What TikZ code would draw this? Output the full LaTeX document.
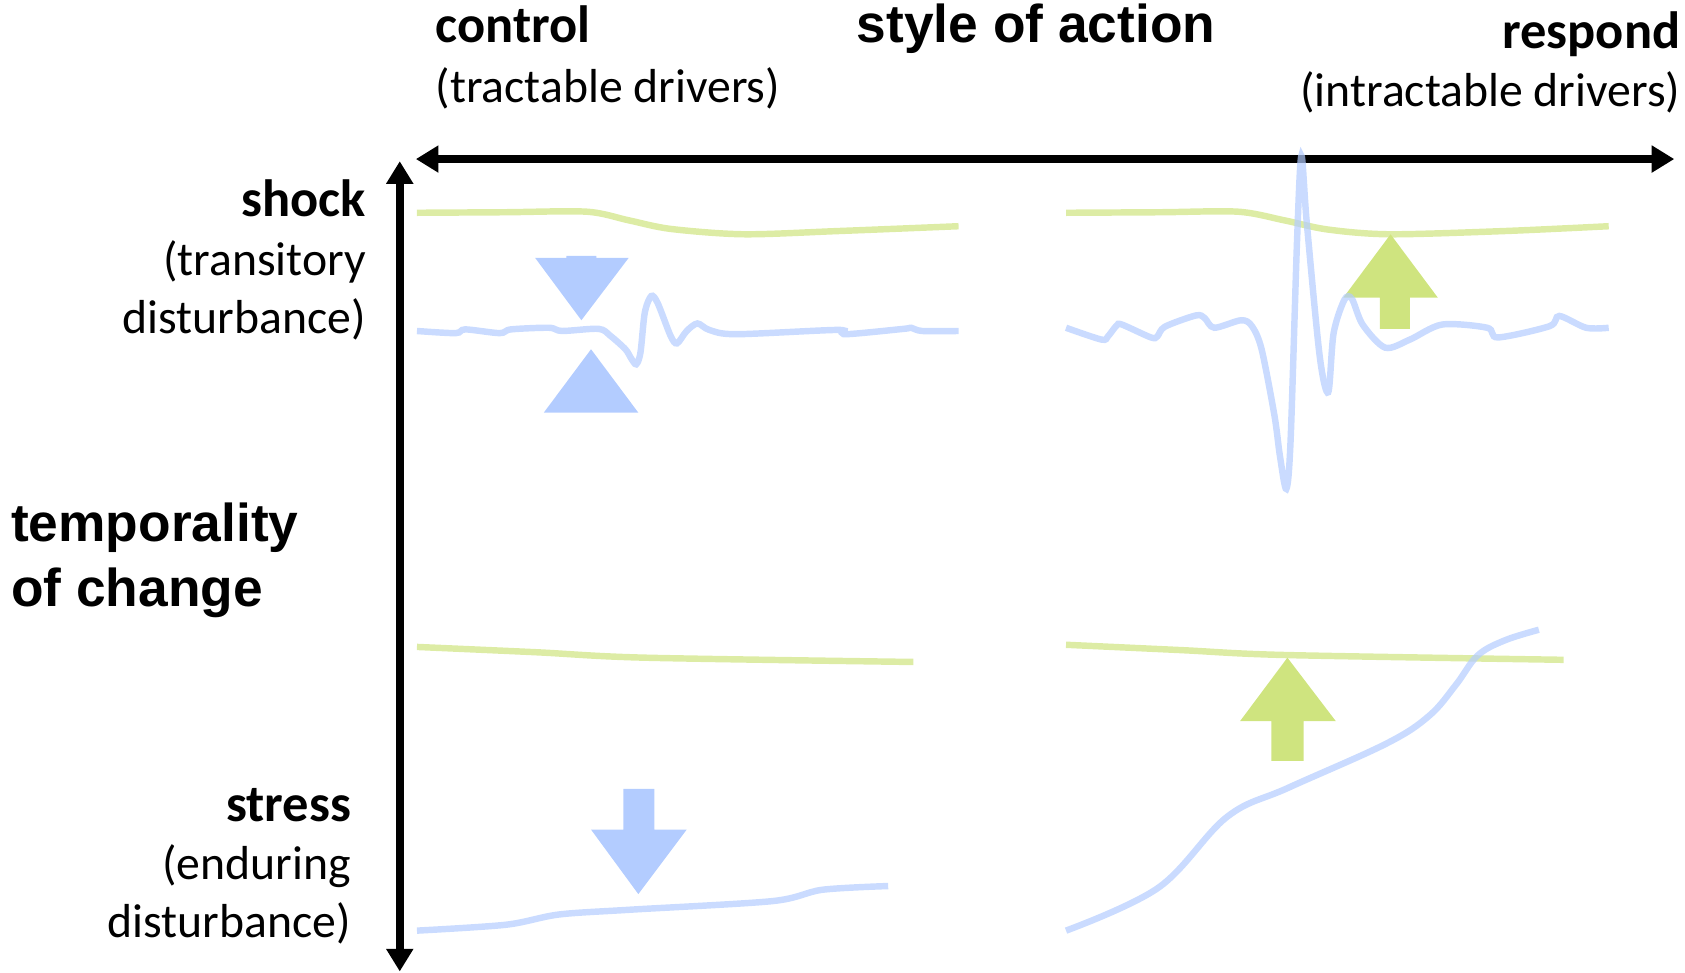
\documentclass[tikz,border=0pt]{standalone}
\usepackage{fontspec}
\setmainfont{Carlito}
\newfontfamily\arialfont{Liberation Sans}
\usetikzlibrary{arrows.meta}

\definecolor{actblue}{RGB}{179,204,255}
\definecolor{actgreen}{RGB}{207,228,127}

\begin{document}
\begin{tikzpicture}[x=0.5pt, y=-0.5pt,
  lbl/.style={inner sep=0pt, font=\fontsize{24.4}{28}\selectfont\bfseries},
  sub/.style={inner sep=0pt, font=\fontsize{22.2}{26}\selectfont},
  big/.style={inner sep=0pt, font=\arialfont\fontsize{24.8}{28}\selectfont\bfseries},
  axis/.style={line width=3.6pt, {Triangle[length=10.5pt,width=12pt]}-{Triangle[length=10.5pt,width=12pt]}},
  blueline/.style={draw=actblue, draw opacity=0.7, line width=3pt},
  greenline/.style={draw=actgreen, draw opacity=0.7, line width=3pt}]

\useasboundingbox (0,0) rectangle (1568,905);

% labels
\node [lbl, anchor=base west] (control) at (405,40) {control};
\node [sub, anchor=base west] (tractable) at (405,95) {(tractable drivers)};
\node [big, anchor=base west] (style) at (797,40) {style of action};
\node [lbl, anchor=base east] (respond) at (1564,45) {respond};
\node [sub, anchor=base east] (intractable) at (1564,99) {(intractable drivers)};

\node [lbl, anchor=base east] (shock) at (341,201) {shock};
\node [sub, anchor=base east] (transitory) at (341,256) {(transitory};
\node [sub, anchor=base east] (disturbA) at (341,310) {disturbance)};
\node [big, anchor=base west] (temporality) at (10,504) {temporality};
\node [big, anchor=base west] (ofchange) at (10,564) {of change};
\node [lbl, anchor=base east] (stress) at (327,764) {stress};
\node [sub, anchor=base east] (enduring) at (327,818) {(enduring};
\node [sub, anchor=base east] (disturbB) at (327,872) {disturbance)};

% axes
\coordinate (xl) at (387,148);
\coordinate (xr) at (1558,148);
\coordinate (yt) at (372,150);
\coordinate (yb) at (372,904);
\draw [axis] (xl) -- (xr);
\draw [axis] (yt) -- (yb);

% 1
\fill [actblue] (527,238) -- (555,238) -- (555,240) -- (585,240) -- (541,298) -- (498,240) -- (527,240) -- cycle;
\fill [actblue] (550,325) -- (594,384) -- (506,384) -- cycle;
\draw [greenline] plot [smooth, tension=0.5] coordinates {(388,198) (470,197.5) (546,197) (585,205) (624,213) (692,218) (780,215) (892,210.5)};
\draw [blueline] plot [smooth, tension=0.5] coordinates {(388,308) (424,310) (433,306.5) (465,310) (475.5,306.5) (511,305) (523,308) (557,306) (568,312.5) (582,325) (587,333) (592,339) (596,328) (600,291) (606,275.5) (612,282) (624,312.5) (630,319.5) (639,308) (649,301) (660,307) (685,311) (780,307) (787,311) (841,306) (848,305) (858,308) (892,308)};

% 2
\fill [actgreen] (1294,218) -- (1338,277) -- (1312,277) -- (1312,306) -- (1284,306) -- (1284,277) -- (1250,277) -- cycle;
\draw [greenline] plot [smooth, tension=0.5] coordinates {(992,198) (1080,197.5) (1152,197) (1195,205) (1235,213.5) (1293,218) (1400,215) (1497,210.5)};
\draw [blueline] plot [smooth, tension=0.5] coordinates {(992,305) (1025,316) (1031,313) (1039,303) (1044,302) (1071,314) (1077,313) (1084,304) (1113,293.5) (1121,296) (1130,305) (1155,298) (1165,303.5) (1174,325) (1186,387) (1191,424) (1197,455) (1201,409) (1207,223) (1211,145) (1216,207) (1228,331) (1236,365) (1241,310) (1251,279) (1258,278) (1268,302) (1289,323.5) (1312,316) (1342,302) (1384,305) (1394,314) (1442,303.5) (1451,294) (1476,305) (1497,305)};

% 3
\fill [actblue] (580,734) -- (609,734) -- (609,772) -- (639,772) -- (594,832) -- (550,772) -- (580,772) -- cycle;
\draw [greenline] plot [smooth, tension=0.5] coordinates {(388,602) (500,607) (600,612) (850,616)};
\draw [blueline] plot [smooth, tension=0.5] coordinates {(388,866) (471,860.5) (520,851) (587,846.5) (719,838.5) (765,828) (826.5,824.5)};

% 4
\fill [actgreen] (1198,612) -- (1243,671) -- (1213,671) -- (1213,708) -- (1183,708) -- (1183,671) -- (1154,671) -- cycle;
\draw [greenline] plot [smooth, tension=0.5] coordinates {(992,600) (1100,605) (1195,609.5) (1455,614)};
\draw [blueline] plot [smooth, tension=0.6] coordinates {(992,866) (1078,826) (1142,760) (1199,733) (1290,692) (1330,666) (1355,637) (1375,610) (1400,596) (1432,586)};

\end{tikzpicture}
\end{document}
